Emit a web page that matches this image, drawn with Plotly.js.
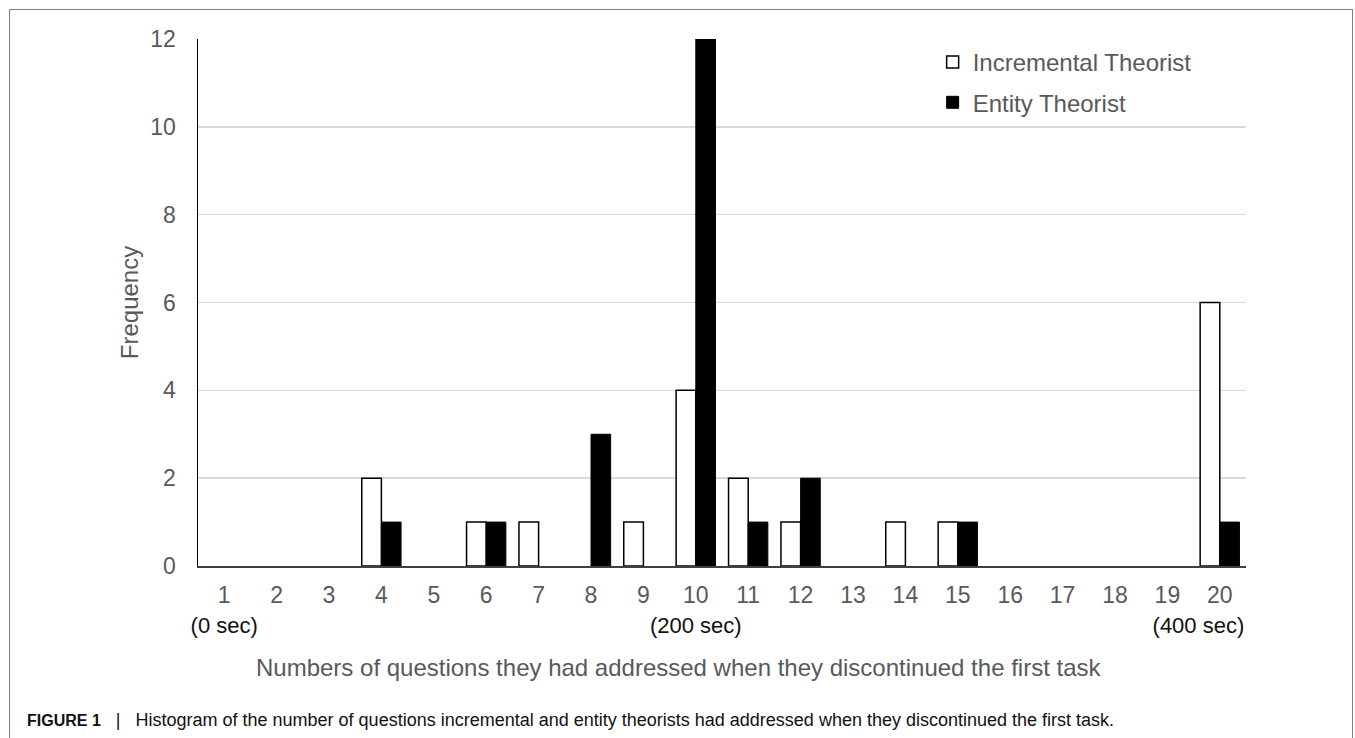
<!DOCTYPE html>
<html>
<head>
<meta charset="utf-8">
<script src="https://cdn.plot.ly/plotly-3.0.1.min.js"></script>
<style>
  html, body { margin: 0; padding: 0; background: #fff; overflow: hidden; }
  #chart { width: 1355px; height: 738px; }
  #frame { position: absolute; left: 9px; top: 9px; width: 1342px; height: 800px;
           border: 1px solid #808080; pointer-events: none; }
</style>
</head>
<body>
<div id="chart"></div>
<div id="frame"></div>
<script>
const categories = ['1','2','3','4','5','6','7','8','9','10','11','12','13','14','15','16','17','18','19','20'];
const incremental = [0,0,0,2,0,1,1,0,1,4,2,1,0,1,1,0,0,0,0,6];
const entity      = [0,0,0,1,0,1,0,3,0,12,1,2,0,0,1,0,0,0,0,1];
const timeNotes   = ['(0 sec)','','','','','','','','','(200 sec)','','','','','','','','','','(400 sec)'];
const seriesNames = ['Incremental Theorist', 'Entity Theorist'];
const xTitle = 'Numbers of questions they had addressed when they discontinued the first task';
const yTitle = 'Frequency';
const captionLabel = 'FIGURE 1';
const captionText = 'Histogram of the number of questions incremental and entity theorists had addressed when they discontinued the first task.';

const FONT = 'Liberation Sans, Arial, sans-serif';
const GRAY = '#595959';

// last note is kept inside the plot edge, as in the original
const NBSP = '&nbsp;';
const tickText = categories.map((c, i) => {
  if (!timeNotes[i]) return c;
  const pad = (i === categories.length - 1) ? NBSP.repeat(7) : '';
  return c + '<br><span style="color:#111;font-size:22px">' + timeNotes[i] + pad + '</span>';
});

// zero-count bins draw no bar
const shown = vals => vals.map(v => (v === 0 ? null : v));

const traces = [
  { type: 'bar', name: seriesNames[0], x: categories, y: shown(incremental), legendgroup: 'a',
    marker: { color: '#ffffff', line: { color: '#000000', width: 1.5 } } },
  { type: 'bar', name: seriesNames[1], x: categories, y: shown(entity), legendgroup: 'b',
    marker: { color: '#000000', line: { color: '#000000', width: 1 } } }
];

const caption = '<span style="font-size:16px"><b>' + captionLabel + '</b></span>' +
  '&nbsp;&nbsp;&nbsp;<span style="font-size:18px">|</span>&nbsp;&nbsp;&nbsp;' + captionText;

const layout = {
  width: 1355, height: 738,
  margin: { l: 198, r: 109, t: 39, b: 172 },
  paper_bgcolor: '#ffffff', plot_bgcolor: '#ffffff',
  font: { family: FONT, color: GRAY, size: 23 },
  barmode: 'group', bargap: 0.25, bargroupgap: 0,
  showlegend: true,
  legend: { x: 0.701, y: (566 - 40) / 527, xanchor: 'left', yanchor: 'top',
            bgcolor: 'rgba(0,0,0,0)', font: { family: FONT, size: 24, color: GRAY },
            traceorder: 'grouped', tracegroupgap: 6, itemwidth: 30 },
  xaxis: {
    type: 'category', categoryorder: 'array', categoryarray: categories,
    tickmode: 'array', tickvals: categories, ticktext: tickText, tickangle: 0,
    showline: true, linecolor: '#404040', linewidth: 1.5,
    ticks: '', showgrid: false, zeroline: false, ticklabelstandoff: 8,
    tickfont: { family: FONT, size: 23, color: GRAY },
    fixedrange: true
  },
  yaxis: {
    range: [0, 12], dtick: 2, tick0: 0,
    showline: true, linecolor: '#000000', linewidth: 1.5,
    showgrid: true, gridcolor: '#d9d9d9', gridwidth: 1.5,
    zeroline: false, ticks: '', ticklabelstandoff: 16,
    tickfont: { family: FONT, size: 23, color: GRAY },
    title: { text: yTitle, font: { family: FONT, size: 24, color: GRAY }, standoff: 5 },
    fixedrange: true
  },
  annotations: [
    { xref: 'paper', yref: 'paper', x: (678 - 198) / 1048, y: (566 - 667) / 527,
      xanchor: 'center', yanchor: 'middle', showarrow: false, text: xTitle,
      font: { family: FONT, size: 24, color: GRAY } },
    { xref: 'paper', yref: 'paper', x: (25 - 198) / 1048, y: (566 - 720) / 527,
      xanchor: 'left', yanchor: 'middle', showarrow: false, text: caption,
      font: { family: FONT, size: 18, color: '#111111' } }
  ]
};

Plotly.newPlot('chart', traces, layout, { displayModeBar: false, staticPlot: true });
</script>
</body>
</html>
